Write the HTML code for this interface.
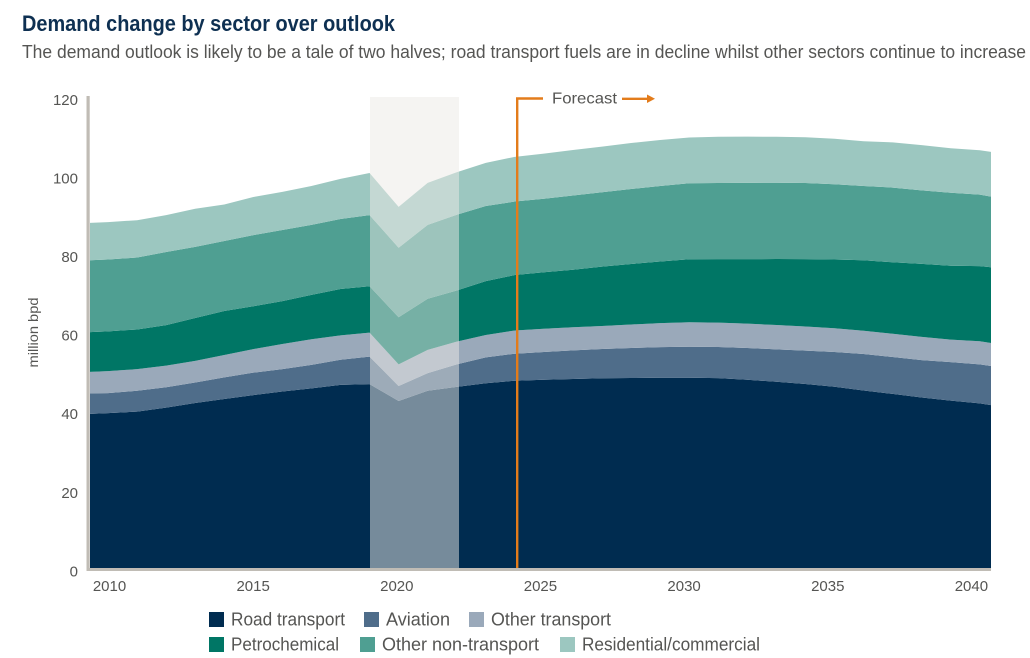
<!DOCTYPE html>
<html lang="en">
<head>
<meta charset="utf-8">
<title>Demand change by sector over outlook</title>
<style>
html,body{margin:0;padding:0;background:#fff;}
svg{display:block;font-family:"Liberation Sans",sans-serif;}
</style>
</head>
<body>
<svg id="chart" width="1030" height="658" viewBox="0 0 1030 658" xmlns="http://www.w3.org/2000/svg">
  <defs>
    <clipPath id="plot-clip"><rect x="90" y="90" width="901" height="478"></rect></clipPath>
  </defs>
  <text x="22" y="31" font-size="22" font-weight="bold" fill="#0e3052" textLength="373" lengthAdjust="spacingAndGlyphs">Demand change by sector over outlook</text>
  <text x="22" y="58" font-size="18" fill="#555553" textLength="1004" lengthAdjust="spacingAndGlyphs">The demand outlook is likely to be a tale of two halves; road transport fuels are in decline whilst other sectors continue to increase</text>
  <g id="areas" clip-path="url(#plot-clip)"></g>
  <rect id="covid-band" x="370" y="97" width="89" height="471" fill="rgb(236,233,229)" fill-opacity="0.5"></rect>
  <g id="axes"></g>
  <text transform="translate(38,332.5) rotate(-90)" text-anchor="middle" font-size="14" fill="#555553" textLength="70" lengthAdjust="spacingAndGlyphs">million bpd</text>
  <g>
    <path d="M517.2 568V98.5H543" fill="none" stroke="#e37c1b" stroke-width="2.4"></path>
    <text x="552" y="103.5" font-size="16" fill="#555553" textLength="65" lengthAdjust="spacingAndGlyphs">Forecast</text>
    <path d="M622 98.8H648" fill="none" stroke="#e37c1b" stroke-width="2.4"></path>
    <polygon points="647,94.5 655,98.8 647,103" fill="#e37c1b"></polygon>
  </g>
  <g id="legend"></g>
</svg>
<script>
const years = [2009,2010,2011,2012,2013,2014,2015,2016,2017,2018,2019,2020,2021,2022,2023,2024,2025,2026,2027,2028,2029,2030,2031,2032,2033,2034,2035,2036,2037,2038,2039,2040,2041];
const roadTransport = [39.1,39.4,39.8,40.8,42.0,43.0,44.0,44.9,45.7,46.6,46.8,42.5,45.1,46.1,47.0,47.66,47.89,48.09,48.27,48.35,48.40,48.42,48.30,47.89,47.40,46.82,46.11,45.17,44.3,43.4,42.6,41.9,40.7];
const aviation = [5.3,5.1,5.3,5.2,5.2,5.5,5.7,5.7,6.0,6.4,7.0,3.8,4.5,5.7,6.6,6.87,7.07,7.30,7.46,7.63,7.79,7.89,7.94,8.09,8.24,8.50,8.85,9.29,9.4,9.5,9.8,9.9,10.1];
const otherTransport = [5.4,5.6,5.5,5.5,5.5,5.7,6.0,6.4,6.5,6.2,6.1,5.5,5.9,5.8,5.7,5.90,5.93,5.88,5.85,5.98,6.11,6.21,6.21,6.21,6.18,6.13,6.06,5.90,5.9,5.9,5.7,5.9,5.7];
const petrochemical = [10.1,10.1,10.1,10.3,10.9,11.2,10.9,10.9,11.3,11.8,11.8,12.0,13.0,13.0,13.7,14.12,14.35,14.63,15.11,15.39,15.70,16.03,16.13,16.41,16.79,17.15,17.48,17.94,18.2,18.6,18.8,19.1,19.6];
const otherNonTransport = [18.3,18.3,18.3,18.6,18.1,17.8,18.1,18.1,17.8,17.8,18.1,17.7,18.8,19.3,19.1,18.70,18.73,18.88,18.93,19.08,19.21,19.34,19.39,19.41,19.41,19.36,19.16,18.91,19.0,18.7,18.6,18.2,17.6];
const residentialCommercial = [9.5,9.5,9.5,9.4,9.7,9.3,9.7,9.7,9.9,10.2,10.7,10.4,10.7,10.8,11.0,11.37,11.48,11.58,11.60,11.70,11.70,11.65,11.76,11.76,11.70,11.63,11.55,11.37,11.5,11.5,11.3,11.3,11.5];
const seriesNames = ["Road transport","Aviation","Other transport","Petrochemical","Other non-transport","Residential/commercial"];
const seriesValues = [roadTransport,aviation,otherTransport,petrochemical,otherNonTransport,residentialCommercial];
const seriesColors = ["#002c50","#4f6d8a","#9aa9ba","#007665","#4f9f92","#9cc7c0"];
const yTicks = [0,20,40,60,80,100,120];
const xTicks = [2010,2015,2020,2025,2030,2035,2040];

const NS = "http://www.w3.org/2000/svg";
function xScale(year){ return 90 + (year - 2009.38) * 29.06; }
function yScale(value){ return 568 - value * 3.93; }
function xTickScale(year){ return 109.5 + (year - 2010) * 28.73; }
function slug(s){ return s.toLowerCase().replace(/[^a-z]+/g,"-"); }

const areas = document.getElementById("areas");
const baseline = years.map(function(){ return 0; });
seriesValues.forEach(function(vals, i){
  const top = baseline.map(function(b, k){ return b + vals[k]; });
  let d = "";
  years.forEach(function(yr, k){ d += (k ? "L" : "M") + xScale(yr).toFixed(2) + " " + yScale(top[k]).toFixed(2); });
  for (let k = years.length - 1; k >= 0; k--) { d += "L" + xScale(years[k]).toFixed(2) + " " + yScale(baseline[k]).toFixed(2); }
  d += "Z";
  const p = document.createElementNS(NS, "path");
  p.setAttribute("d", d);
  p.setAttribute("fill", seriesColors[i]);
  
  
  areas.appendChild(p);
  top.forEach(function(v, k){ baseline[k] = v; });
});

const axes = document.getElementById("axes");
const yLine = document.createElementNS(NS, "rect");
yLine.setAttribute("x", 86.5);
yLine.setAttribute("y", 96);
yLine.setAttribute("width", 3.2);
yLine.setAttribute("height", 475);
yLine.setAttribute("fill", "#c0bcb5");


axes.appendChild(yLine);
const xLine = document.createElementNS(NS, "rect");
xLine.setAttribute("x", 86.5);
xLine.setAttribute("y", 568);
xLine.setAttribute("width", 904.5);
xLine.setAttribute("height", 3);
xLine.setAttribute("fill", "#c0bcb5");


axes.appendChild(xLine);

yTicks.forEach(function(v){
  const t = document.createElementNS(NS, "text");
  t.setAttribute("x", 78);
  t.setAttribute("y", yScale(v) + 8.4);
  t.setAttribute("text-anchor", "end");
  t.setAttribute("font-size", "15");
  t.setAttribute("fill", "#555553");
  
  
  t.textContent = v;
  axes.appendChild(t);
});
xTicks.forEach(function(v){
  const t = document.createElementNS(NS, "text");
  t.setAttribute("x", xTickScale(v));
  t.setAttribute("y", 591);
  t.setAttribute("text-anchor", "middle");
  t.setAttribute("font-size", "15");
  t.setAttribute("fill", "#555553");
  
  
  t.textContent = v;
  axes.appendChild(t);
});

const legendSwatchX = [209,364,469,209,360,560];
const legendRowY = [612,612,612,637,637,637];
const legendTextWidth = [114,64,120,108,157,178];
const legend = document.getElementById("legend");
seriesNames.forEach(function(name, i){
  const g = document.createElementNS(NS, "g");
  
  
  const r = document.createElementNS(NS, "rect");
  r.setAttribute("x", legendSwatchX[i]);
  r.setAttribute("y", legendRowY[i]);
  r.setAttribute("width", 15);
  r.setAttribute("height", 15);
  r.setAttribute("fill", seriesColors[i]);
  
  
  g.appendChild(r);
  const t = document.createElementNS(NS, "text");
  t.setAttribute("x", legendSwatchX[i] + 22);
  t.setAttribute("y", legendRowY[i] + 13.5);
  t.setAttribute("font-size", "18");
  t.setAttribute("fill", "#555553");
  t.setAttribute("textLength", legendTextWidth[i]);
  t.setAttribute("lengthAdjust", "spacingAndGlyphs");
  
  
  t.textContent = name;
  g.appendChild(t);
  legend.appendChild(g);
});
</script>
</body>
</html>
